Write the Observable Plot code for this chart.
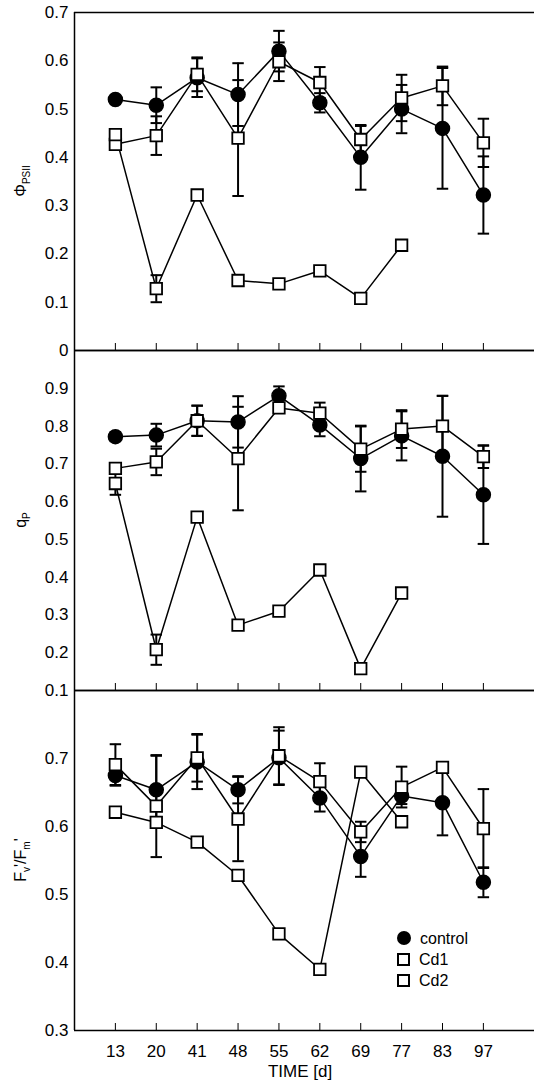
<!DOCTYPE html>
<html><head><meta charset="utf-8">
<script src="https://cdn.jsdelivr.net/npm/d3@7"></script>
<script src="https://cdn.jsdelivr.net/npm/@observablehq/plot@0.6"></script>
<style>
body{margin:0;background:#fff;font-family:"Liberation Sans",Arial,sans-serif;}
#wrap{position:relative;width:534px;}
#wrap svg{display:block;overflow:visible;}
.yl{position:absolute;transform:translate(-50%,-50%) rotate(-90deg);font-size:16px;white-space:nowrap;}
.yl sub{font-size:10px;}
#legend{position:absolute;left:397px;top:928px;font-size:16px;line-height:21px;}
#legend span{display:inline-block;width:13px;height:13px;margin-right:9px;vertical-align:-1px;box-sizing:border-box;}
</style></head>
<body><div id="wrap"></div>
<script>
const days = ["13","20","41","48","55","62","69","77","83","97"];

// panel 1: PhiPSII
const phiControl = [0.52,0.508,0.565,0.53,0.62,0.513,0.40,0.50,0.46,0.322];
const phiControlErr = [0,0.037,0.04,0.065,0.042,0.02,0.067,0.05,0.125,0.08];
const phiCd1 = [0.427,0.445,0.572,0.44,0.598,0.555,0.437,0.523,0.548,0.43];
const phiCd1Err = [0,0.04,0.035,0.12,0.04,0.032,0.028,0.048,0.04,0.05];
const phiCd2 = [0.447,0.128,0.322,0.145,0.138,0.165,0.108,0.218];
const phiCd2Err = [0,0.028,0,0,0,0,0,0];

// panel 2: qP
const qpControl = [0.772,0.776,0.814,0.811,0.88,0.803,0.714,0.774,0.72,0.618];
const qpControlErr = [0.012,0.03,0.04,0.068,0.025,0.03,0.087,0.065,0.16,0.13];
const qpCd1 = [0.688,0.705,0.814,0.714,0.848,0.834,0.739,0.792,0.80,0.719];
const qpCd1Err = [0,0.035,0.04,0.137,0,0.028,0.06,0.05,0.08,0.03];
const qpCd2 = [0.648,0.208,0.559,0.273,0.31,0.419,0.158,0.358];
const qpCd2Err = [0.03,0.04,0,0,0,0,0,0];

// panel 3: Fv'/Fm'
const fvControl = [0.675,0.654,0.695,0.654,0.701,0.642,0.556,0.645,0.635,0.518];
const fvControlErr = [0.015,0.05,0.04,0.02,0.04,0.02,0.03,0.012,0.048,0.022];
const fvCd1 = [0.691,0.63,0.701,0.611,0.704,0.666,0.592,0.658,0.687,0.597];
const fvCd1Err = [0.03,0.075,0.035,0.062,0.042,0.027,0.015,0.03,0,0.058];
const fvCd2 = [0.621,0.606,0.577,0.528,0.442,0.39,0.68,0.607];
const fvCd2Err = [0,0,0,0,0,0,0,0];

function rows(vals, errs, series) {
  return vals.map((v, i) => ({i, v, lo: v - errs[i], hi: v + errs[i], series, err: errs[i] > 0}));
}

const panels = [
  {label: "Φ<sub>PSII</sub>", domain: [0, 0.7], ticks: d3.range(0, 0.71, 0.1), height: 350, top: 12, bottom: 0, fmt: d => d === 0 ? "0" : d.toFixed(1),
   data: [rows(phiControl, phiControlErr, "control"), rows(phiCd1, phiCd1Err, "Cd1"), rows(phiCd2, phiCd2Err, "Cd2")]},
  {label: "q<sub>P</sub>", domain: [0.1, 1.0], ticks: d3.range(0.1, 0.91, 0.1), height: 340, top: 0, bottom: 0, fmt: d => d.toFixed(1),
   data: [rows(qpControl, qpControlErr, "control"), rows(qpCd1, qpCd1Err, "Cd1"), rows(qpCd2, qpCd2Err, "Cd2")]},
  {label: "F<sub>v</sub>'/F<sub>m</sub>'", domain: [0.3, 0.8], ticks: [0.3,0.4,0.5,0.6,0.7], height: 396, top: 0, bottom: 56, fmt: d => d.toFixed(1),
   data: [rows(fvControl, fvControlErr, "control"), rows(fvCd1, fvCd1Err, "Cd1"), rows(fvCd2, fvCd2Err, "Cd2")], last: true}
];

const wrap = document.getElementById("wrap");
let yOff = 0;
panels.forEach(p => {
  const all = p.data.flat();
  const errs = all.filter(d => d.err);
  const tickLen = (p.domain[1] - p.domain[0]) * 7 / (p.height - p.top - p.bottom);
  const marks = [
    Plot.ruleY([p.domain[1]], {stroke: "#000", strokeWidth: 1.5}),
    Plot.ruleY([p.domain[0]], {stroke: "#000", strokeWidth: 1.5}),
    Plot.ruleX([-1], {stroke: "#000", strokeWidth: 1.5}),
    Plot.ruleX(days.map((d, i) => i), {x: d => d, y1: p.domain[0], y2: p.domain[0] + tickLen, stroke: "#000"}),
    Plot.axisY({ticks: p.ticks, tickSize: 0, tickPadding: 6, tickFormat: p.fmt, fontSize: 17, label: null}),
    Plot.ruleX(errs, {x: "i", y1: "lo", y2: "hi", stroke: "#000", strokeWidth: 2}),
    Plot.link(errs, {x1: d => d.i - 0.14, x2: d => d.i + 0.14, y1: "lo", y2: "lo", stroke: "#000", strokeWidth: 2}),
    Plot.link(errs, {x1: d => d.i - 0.14, x2: d => d.i + 0.14, y1: "hi", y2: "hi", stroke: "#000", strokeWidth: 2}),
    ...p.data.map(s => Plot.line(s, {x: "i", y: "v", stroke: "#000", strokeWidth: 1.5})),
    Plot.dot(p.data[0], {x: "i", y: "v", r: 7, fill: "#000", stroke: "#000"}),
    Plot.dot(p.data[1], {x: "i", y: "v", r: 6.5, symbol: "square", fill: "#fff", stroke: "#000", strokeWidth: 1.8}),
    Plot.dot(p.data[2], {x: "i", y: "v", r: 6.5, symbol: "square", fill: "#fff", stroke: "#000", strokeWidth: 1.8})
  ];
  if (p.last) marks.push(Plot.axisX(days.map((d, i) => i), {tickSize: 0, tickPadding: 14, tickFormat: i => days[i], fontSize: 17, label: null}));
  const chart = Plot.plot({
    width: 534, height: p.height,
    marginLeft: 74, marginRight: 0, marginTop: p.top, marginBottom: p.bottom,
    x: {domain: [-1, 10.25], axis: null},
    y: {domain: p.domain, axis: null},
    style: {fontFamily: "Liberation Sans, Arial, sans-serif", fontSize: "17px", color: "#000"},
    marks
  });
  wrap.appendChild(chart);
  const lab = document.createElement("div");
  lab.className = "yl";
  lab.innerHTML = p.label;
  lab.style.left = "22px";
  lab.style.top = (yOff + p.top + (p.height - p.top - p.bottom) / 2) + "px";
  wrap.appendChild(lab);
  yOff += p.height;
});

const xl = document.createElement("div");
xl.textContent = "TIME [d]";
xl.style.cssText = "position:absolute;left:300px;top:1062px;transform:translateX(-50%);font-size:17px;";
wrap.appendChild(xl);

const leg = document.createElement("div");
leg.id = "legend";
leg.innerHTML = ["control", "Cd1", "Cd2"].map((s, k) =>
  `<div><span style="${k === 0 ? "background:#000;border-radius:50%;width:14px;height:14px" : "border:2px solid #000"}"></span>${s}</div>`).join("");
wrap.appendChild(leg);
</script></body></html>
